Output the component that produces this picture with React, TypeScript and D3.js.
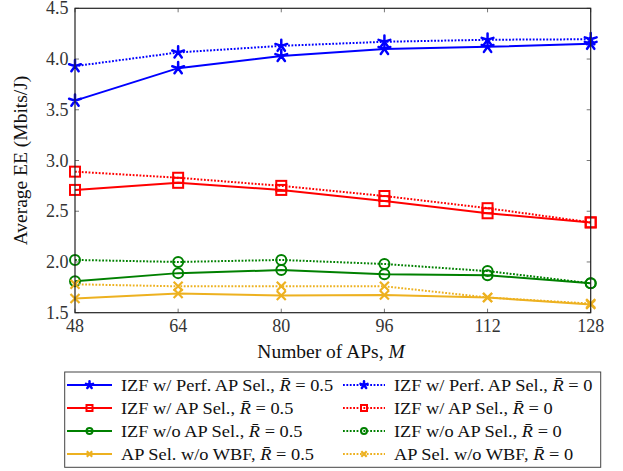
import React from "react";
import * as d3 from "d3";

const apCounts = [48, 64, 80, 96, 112, 128];
const yTicks = [1.5, 2.0, 2.5, 3.0, 3.5, 4.0, 4.5];

const perfSelHalf = [3.59, 3.91, 4.03, 4.1, 4.12, 4.15];
const perfSelZero = [3.93, 4.065, 4.13, 4.17, 4.19, 4.195];
const apSelHalf = [2.71, 2.78, 2.71, 2.6, 2.48, 2.39];
const apSelZero = [2.89, 2.83, 2.75, 2.65, 2.53, 2.39];
const noSelHalf = [1.81, 1.89, 1.92, 1.88, 1.87, 1.79];
const noSelZero = [2.02, 2.0, 2.02, 1.98, 1.91, 1.79];
const noWbfHalf = [1.64, 1.69, 1.67, 1.675, 1.65, 1.58];
const noWbfZero = [1.78, 1.76, 1.76, 1.76, 1.65, 1.59];

const seriesNames = [
  "IZF w/ Perf. AP Sel., ",
  "IZF w/ AP Sel., ",
  "IZF w/o AP Sel., ",
  "AP Sel. w/o WBF, ",
];
const seriesColors = ["#0000ff", "#ff0000", "#008000", "#edb120"];
const seriesMarks = ["star", "square", "circle", "cross"];
const halfValues = [perfSelHalf, apSelHalf, noSelHalf, noWbfHalf];
const zeroValues = [perfSelZero, apSelZero, noSelZero, noWbfZero];

const W = 623;
const H = 471;
const left = 75;
const right = 590.7;
const top = 8.3;
const bottom = 312.7;
const FONT = "Liberation Serif";

const x = d3.scaleLinear().domain([48, 128]).range([left, right]);
const y = d3.scaleLinear().domain([1.5, 4.5]).range([bottom, top]);

function Marker({ kind, cx, cy, color, s = 1 }: { kind: string; cx: number; cy: number; color: string; s?: number }) {
  if (kind === "star") {
    const r = 6.2 * s;
    const d = d3.range(5).map((i) => {
      const a = -Math.PI / 2 + (i * 2 * Math.PI) / 5;
      return `M${cx},${cy}L${cx + r * Math.cos(a)},${cy + r * Math.sin(a)}`;
    }).join("");
    return <path d={d} stroke={color} strokeWidth={2.5} fill="none" strokeLinecap="round" />;
  }
  if (kind === "square") {
    const h = 5 * s;
    return <rect x={cx - h} y={cy - h} width={2 * h} height={2 * h} fill="none" stroke={color} strokeWidth={2} />;
  }
  if (kind === "circle") {
    return <circle cx={cx} cy={cy} r={5 * s} fill="none" stroke={color} strokeWidth={2} />;
  }
  const h = 4.5 * s;
  return (
    <path
      d={`M${cx - h},${cy - h}L${cx + h},${cy + h}M${cx - h},${cy + h}L${cx + h},${cy - h}`}
      stroke={color}
      strokeWidth={2.2}
      fill="none"
    />
  );
}

const textStyle = { fontFamily: FONT };

function LegendLabel({ lx, ly, name, value }: { lx: number; ly: number; name: string; value: string }) {
  return (
    <text transform={`translate(${lx},${ly}) scale(1.08,1)`} fontSize={17} fill="#111" style={textStyle}>
      {name}
      <tspan fontStyle="italic">{"R\u0304"}</tspan>
      {" = " + value}
    </text>
  );
}

export default function App() {
  const line = d3
    .line<number>()
    .x((_, i) => x(apCounts[i]))
    .y((v) => y(v));

  const dotted = "1.8,1.6";
  const legendRows = [385, 408, 431, 454];

  return (
    <svg width={W} height={H} style={{ position: "absolute", left: 0, top: 0, background: "white" }}>
      {/* ticks and tick labels */}
      {apCounts.map((t) => (
        <g key={"xt" + t}>
          <line x1={x(t)} x2={x(t)} y1={bottom} y2={bottom - 4} stroke="#777" strokeWidth={1} />
          <line x1={x(t)} x2={x(t)} y1={top} y2={top + 4} stroke="#777" strokeWidth={1} />
          <text x={x(t)} y={bottom + 19} textAnchor="middle" fontSize={18} fill="#333" style={textStyle}>
            {t}
          </text>
        </g>
      ))}
      {yTicks.map((t) => (
        <g key={"yt" + t}>
          <line x1={left} x2={left + 4} y1={y(t)} y2={y(t)} stroke="#777" strokeWidth={1} />
          <line x1={right} x2={right - 4} y1={y(t)} y2={y(t)} stroke="#777" strokeWidth={1} />
          <text x={left - 6.5} y={y(t) + 6} textAnchor="end" fontSize={18} fill="#333" style={textStyle}>
            {t.toFixed(1)}
          </text>
        </g>
      ))}

      {/* series: dotted for R̄ = 0, solid for R̄ = 0.5 */}
      {halfValues.map((vals, k) => (
        <g key={"s" + k}>
          <path d={line(zeroValues[k]) || ""} stroke={seriesColors[k]} strokeWidth={2} fill="none" strokeDasharray={dotted} />
          <path d={line(vals) || ""} stroke={seriesColors[k]} strokeWidth={2} fill="none" />
          {zeroValues[k].map((v, i) => (
            <Marker key={"z" + i} kind={seriesMarks[k]} cx={x(apCounts[i])} cy={y(v)} color={seriesColors[k]} />
          ))}
          {vals.map((v, i) => (
            <Marker key={"h" + i} kind={seriesMarks[k]} cx={x(apCounts[i])} cy={y(v)} color={seriesColors[k]} />
          ))}
        </g>
      ))}

      {/* frame */}
      <rect x={left} y={top} width={right - left} height={bottom - top} fill="none" stroke="#222" strokeWidth={1.2} />

      {/* axis titles */}
      <text x={331} y={358.3} textAnchor="middle" fontSize={19.5} fill="#111" style={textStyle}>
        {"Number of APs, "}
        <tspan fontStyle="italic">M</tspan>
      </text>
      <text
        transform={`translate(27,${(top + bottom) / 2}) rotate(-90)`}
        textAnchor="middle"
        fontSize={19.5}
        fill="#111"
        style={textStyle}
      >
        Average EE (Mbits/J)
      </text>

      {/* legend */}
      <rect x={64.7} y={372} width={536} height={95.3} fill="white" stroke="#444" strokeWidth={1} />
      {seriesNames.map((name, k) => (
        <g key={"lg" + k}>
          <line x1={67} x2={112} y1={legendRows[k]} y2={legendRows[k]} stroke={seriesColors[k]} strokeWidth={2} />
          <Marker kind={seriesMarks[k]} cx={89.5} cy={legendRows[k]} color={seriesColors[k]} s={0.6} />
          <LegendLabel lx={121} ly={legendRows[k] + 5.7} name={name} value="0.5" />
          <line x1={343} x2={385} y1={legendRows[k]} y2={legendRows[k]} stroke={seriesColors[k]} strokeWidth={2} strokeDasharray={dotted} />
          <Marker kind={seriesMarks[k]} cx={364} cy={legendRows[k]} color={seriesColors[k]} s={0.6} />
          <LegendLabel lx={394} ly={legendRows[k] + 5.7} name={name} value="0" />
        </g>
      ))}
    </svg>
  );
}
